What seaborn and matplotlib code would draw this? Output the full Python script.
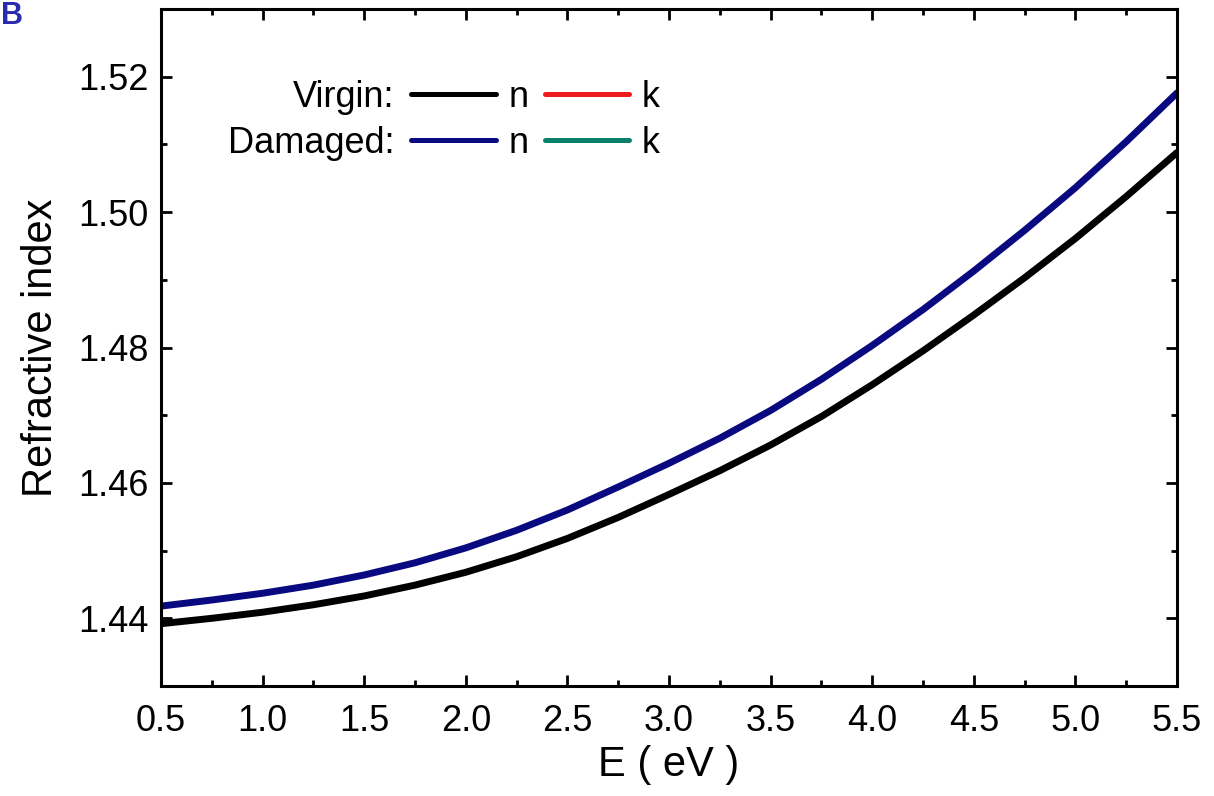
import numpy as np
import pandas as pd
import matplotlib
matplotlib.use("Agg")
import matplotlib.pyplot as plt
from matplotlib.lines import Line2D
from matplotlib.ticker import MultipleLocator
import seaborn as sns

# ---- data ----
energy_eV = [0.50, 0.75, 1.00, 1.25, 1.50, 1.75, 2.00, 2.25, 2.50, 2.75, 3.00,
             3.25, 3.50, 3.75, 4.00, 4.25, 4.50, 4.75, 5.00, 5.25, 5.50]
virgin_n = [1.4392, 1.4400, 1.4409, 1.4420, 1.4433, 1.4449, 1.4468, 1.4491,
            1.4518, 1.4549, 1.4583, 1.4618, 1.4656, 1.4698, 1.4745, 1.4795,
            1.4848, 1.4903, 1.4961, 1.5023, 1.5088]
damaged_n = [1.4418, 1.4427, 1.4437, 1.4449, 1.4464, 1.4482, 1.4504, 1.4530,
             1.4560, 1.4594, 1.4629, 1.4666, 1.4707, 1.4753, 1.4803, 1.4856,
             1.4913, 1.4973, 1.5036, 1.5104, 1.5176]

row_labels = ["Virgin:", "Damaged:"]
n_colors = ["#000000", "#0a0a80"]
k_colors = ["#ee1c1c", "#0a7f6a"]

x_ticks = [0.5, 1.0, 1.5, 2.0, 2.5, 3.0, 3.5, 4.0, 4.5, 5.0, 5.5]
y_ticks = [1.44, 1.46, 1.48, 1.50, 1.52]

sns.set_theme(style="ticks")
plt.rcParams["font.family"] = ["Liberation Sans", "DejaVu Sans"]
plt.rcParams["text.color"] = "black"

fig = plt.figure(figsize=(12.14, 7.96), dpi=100)
ax = fig.add_axes([161 / 1214, 1 - 686 / 796, (1177 - 161) / 1214, (686 - 9) / 796])

df = pd.DataFrame({"E": energy_eV, "virgin": virgin_n, "damaged": damaged_n})
sns.lineplot(data=df, x="E", y="virgin", color=n_colors[0], lw=5, ax=ax)
sns.lineplot(data=df, x="E", y="damaged", color=n_colors[1], lw=5, ax=ax)

ax.set_xlim(0.5, 5.5)
ax.set_ylim(1.43, 1.53)
ax.set_xticks(x_ticks)
ax.set_xticklabels([f"{v:.1f}" for v in x_ticks])
ax.set_yticks(y_ticks)
ax.set_yticklabels([f"{v:.2f}" for v in y_ticks])
ax.xaxis.set_minor_locator(MultipleLocator(0.25))
ax.yaxis.set_minor_locator(MultipleLocator(0.01))

for s in ax.spines.values():
    s.set_visible(True)
    s.set_linewidth(2.2)
    s.set_color("black")

ax.tick_params(which="both", direction="in", top=True, right=True,
               color="black", width=2)
ax.tick_params(which="major", length=8, labelsize=26, labelcolor="black")
ax.tick_params(axis="x", which="major", pad=13)
ax.tick_params(axis="y", which="major", pad=9)
ax.tick_params(which="minor", length=4)

ax.set_xlabel("E ( eV )", fontsize=30, color="black", labelpad=4)
ax.set_ylabel("Refractive index", fontsize=30, color="black", labelpad=12)

# legend: label, n-line, "n", k-line, "k"
blank = Line2D([], [], color="none")
handles = [Line2D([], [], color=n_colors[0], lw=3.6),
           Line2D([], [], color=n_colors[1], lw=3.6),
           Line2D([], [], color=k_colors[0], lw=3.6),
           Line2D([], [], color=k_colors[1], lw=3.6),
           blank, blank]
labels = [row_labels[0], row_labels[1], "n", "n", "k", "k"]
leg = ax.legend(handles, labels, ncol=3, markerfirst=False, frameon=False,
                loc="upper left", bbox_to_anchor=((228 - 161) / 1016, (686 - 80) / 677),
                fontsize=26, handlelength=2.35, handletextpad=0.45,
                columnspacing=0.35, labelspacing=0.3, borderpad=0, borderaxespad=0)
for t in leg.get_texts():
    t.set_color("black")

fig.text(1 / 1214, 1 - 24 / 796, "B", color="#2b2bb0", fontsize=22,
         fontweight="bold", ha="left", va="baseline")

fig.savefig("out.png", dpi=100, facecolor="white")
